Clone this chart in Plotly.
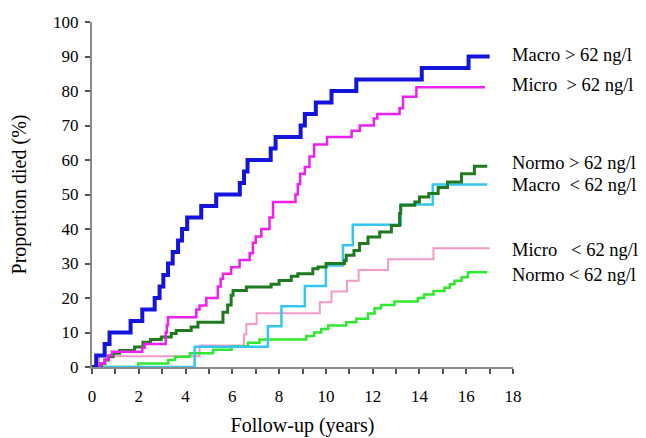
import plotly.graph_objects as go

# ---- data (years, cumulative % died) ----
macro_hi_t = [0, 0.18, 0.54, 0.75, 1.65, 2.15, 2.68, 2.89, 3.05, 3.25, 3.45, 3.68, 3.85, 4.07, 4.67, 5.31,
              6.32, 6.5, 6.65, 7.64, 7.85, 8.92, 9.1, 9.57, 10.24, 11.3, 14.1, 16.1, 17.0]
macro_hi_v = [0, 3.3, 6.7, 10, 13.3, 16.7, 20, 23.3, 26.7, 30, 33.3, 36.7, 40, 43.3, 46.7, 50,
              53.3, 56.7, 60, 63.3, 66.7, 70, 73.3, 76.7, 80, 83.3, 86.7, 90, 90]

micro_hi_t = [0, 0.35, 0.55, 0.7, 0.85, 2.15, 2.25, 3.15, 3.2, 3.25, 4.46, 4.6, 4.89, 5.38, 5.5, 5.6, 5.95,
              6.31, 6.74, 6.88, 7.0, 7.24, 7.59, 7.74, 8.7, 8.8, 8.9, 9.1, 9.3, 9.5, 10.05, 11.1, 11.45,
              12.05, 12.2, 13.15, 13.3, 13.87, 16.8]
micro_hi_v = [0, 1.1, 2.2, 3.3, 4.4, 5.6, 6.7, 10, 12.2, 14.4, 16.7, 17.8, 20, 23.3, 25.6, 27, 28.9,
              31, 33, 36, 37.8, 40, 43.3, 47.8, 50, 53, 56, 58, 61, 64.5, 66.7, 68.5, 70,
              72, 73.3, 75, 78.3, 81.1, 81.1]

normo_hi_t = [0, 0.4, 0.55, 0.7, 0.9, 1.18, 1.82, 2.18, 2.5, 2.96, 3.39, 3.6, 4.24, 4.53, 5.6, 5.8, 5.95,
              6.03, 6.6, 7.66, 8.0, 8.52, 8.8, 9.44, 9.66, 10.01, 10.8, 10.87, 11.2, 11.44, 11.8, 12.3,
              12.8, 13.15, 13.2, 13.8, 14.0, 14.4, 14.8, 15.2, 15.8, 16.35, 16.9]
normo_hi_v = [0, 1, 2, 3, 4, 4.8, 5.8, 7.2, 8, 8.7, 9.7, 10.6, 11.6, 13, 15.9, 18, 20.8,
              22.2, 23.2, 24, 25.1, 26.3, 27, 28.5, 29, 30, 30.9, 32.4, 33.8, 35.8, 37.7, 39.1,
              41, 44.5, 46.9, 47.8, 49.3, 50.3, 52, 53.6, 56, 58.2, 58.2]

macro_lo_t = [0, 4.39, 7.52, 8.1, 9.1, 10.0, 10.73, 11.15, 13.2, 14.57, 16.9]
macro_lo_v = [0, 5.9, 11.8, 17.6, 23.5, 29.4, 35.3, 41.2, 47.1, 52.9, 52.9]

micro_lo_t = [0, 0.3, 4.6, 6.5, 6.6, 7.04, 9.74, 10.24, 10.9, 11.4, 12.66, 14.6, 17.0]
micro_lo_v = [0, 3.1, 6.25, 9.4, 12.5, 15.6, 18.75, 21.9, 25.0, 28.1, 31.25, 34.4, 34.4]

normo_lo_t = [0, 1.98, 3.26, 3.55, 4.19, 5.17, 5.97, 6.67, 7.16, 9.16, 9.5, 9.8, 10.1, 10.87, 11.3, 11.8,
              12.08, 12.36, 12.93, 13.93, 14.2, 14.6, 15.07, 15.3, 15.5, 15.8, 16.07, 16.9]
normo_lo_v = [0, 1, 2, 3, 4, 5, 6, 7, 8, 9, 10, 11, 12, 13, 14, 15.5,
              17, 18, 19, 20, 21, 22, 23, 24, 25, 26, 27.5, 27.5]

NB = "\u00a0"
labels = ["Macro > 62 ng/l", "Micro" + NB * 2 + "> 62 ng/l", "Normo > 62 ng/l",
          "Macro" + NB * 2 + "< 62 ng/l", "Micro" + NB * 3 + "< 62 ng/l", "Normo < 62 ng/l"]
label_y = [90.3, 81.7, 59.0, 52.7, 33.8, 26.6]
label_x = 17.86

x_ticks = [0, 2, 4, 6, 8, 10, 12, 14, 16, 18]
y_ticks = [0, 10, 20, 30, 40, 50, 60, 70, 80, 90, 100]

series = [
    (micro_lo_t, micro_lo_v, "#F59AC8", 2),
    (normo_lo_t, normo_lo_v, "#30E830", 2.5),
    (macro_lo_t, macro_lo_v, "#35C5F0", 2.5),
    (normo_hi_t, normo_hi_v, "#1F7A1F", 3),
    (micro_hi_t, micro_hi_v, "#EE20EE", 2.5),
    (macro_hi_t, macro_hi_v, "#1414DC", 4),
]

fig = go.Figure()
for t, v, c, w in series:
    fig.add_trace(go.Scatter(x=t, y=v, mode="lines", line=dict(color=c, width=w, shape="hv"),
                             showlegend=False, hoverinfo="skip"))

font = "'Liberation Serif', 'Times New Roman', serif"
for txt, yy in zip(labels, label_y):
    fig.add_annotation(x=label_x, y=yy, xref="x", yref="y", text=txt, showarrow=False,
                       xanchor="left", yanchor="middle", font=dict(family=font, size=18.5, color="black"))

axis_common = dict(showgrid=False, zeroline=False, showline=True, linecolor="#8a8a8a", linewidth=2,
                   ticks="outside", ticklen=5, tickwidth=1.5, tickcolor="#555555", automargin=False,
                   tickfont=dict(family=font, size=17, color="black"), layer="below traces")

fig.update_xaxes(range=[0, 18], tickvals=x_ticks, ticktext=[str(v) for v in x_ticks],
                 minor=dict(dtick=1, tick0=0, ticks="outside", ticklen=5, tickwidth=1.5, tickcolor="#555555"),
                 title=dict(text="Follow-up (years)", font=dict(family=font, size=20, color="black"), standoff=13),
                 ticklabelstandoff=8, **axis_common)
fig.update_yaxes(range=[0, 100], tickvals=y_ticks,
                 title=dict(text="Proportion died (%)", font=dict(family=font, size=20, color="black"), standoff=24),
                 ticklabelstandoff=3, **axis_common)

# page body adds an 8px offset; margins compensate so the plot area lands at x 92-513, y 22-367
fig.update_layout(width=646, height=438, margin=dict(l=84, r=141, t=14, b=79, autoexpand=False),
                  plot_bgcolor="white", paper_bgcolor="white", font=dict(family=font))

fig.write_html("out.html")
